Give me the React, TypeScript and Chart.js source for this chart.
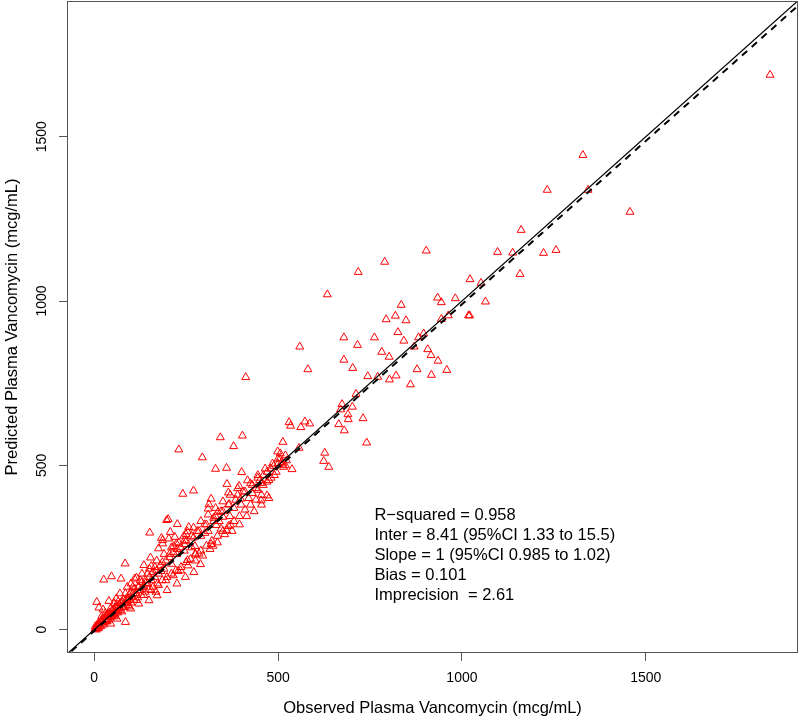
import React, { useEffect, useRef } from 'react';
import { Chart, registerables } from 'chart.js';

Chart.register(...registerables);

// Observed vs predicted plasma vancomycin (mcg/mL)
const observed = [
  1838, 1329, 1232, 1343, 1457, 1161, 1097, 1138, 1222, 1256, 1158, 1064, 1052, 903, 790, 718, 634, 1022,
  934, 944, 982, 835, 819, 794, 848, 944, 963, 1018, 1021, 896, 882, 826, 842, 870, 907, 916, 935, 959,
  917, 878, 782, 802, 762, 716, 679, 679, 703, 559, 581, 744, 771, 803, 821, 860, 712, 674, 702, 670,
  690, 691, 731, 665, 680, 741, 530, 534, 573, 586, 562, 513, 557, 627, 624, 638, 523, 513, 538, 506,
  412,
  230, 343, 403, 379, 294, 330, 360, 401, 241, 270, 361, 365, 394, 417, 445, 455, 499, 488, 481, 470,
  454, 318, 312, 398, 367, 310, 201, 226, 337, 350, 369, 371, 325, 332, 360, 345, 301, 257, 253, 244,
  318, 323, 151, 183, 186, 207, 219, 224, 203,
  197, 186, 175, 216, 246, 274, 285, 289, 254, 228, 153, 84, 47, 26, 73, 115, 135, 155, 182, 168,
  140, 121, 106, 90, 72, 54, 40, 7, 13, 24, 45, 62, 85, 45, 19, 8, 99, 121, 149, 171, 198, 225, 248,
  271, 275,
  410, 430, 440, 460, 480, 500, 505, 520, 470, 450, 420, 390, 380, 400, 350, 340, 330, 310, 300, 290,
  280, 270, 265, 250, 245, 235, 225, 215, 210, 205, 195, 190, 180, 175, 170, 165, 160, 155, 150, 145,
  140, 135, 130, 125, 120, 115, 110, 105, 100, 98, 95, 90, 88, 85, 80, 78, 75, 70, 68, 65, 62, 60, 58,
  55, 52, 50, 48, 45, 42, 40, 38, 35, 33, 30, 28, 25, 22, 20, 18, 15, 12, 10, 8, 5, 3, 2, 6, 12, 18,
  25, 32, 40, 48, 56, 64, 72, 82, 92, 100, 108, 118, 128, 138, 148, 160, 172, 185, 198, 210, 222, 236,
  250, 262, 275, 290, 305, 320, 335, 350, 365, 380, 395, 410, 425, 440, 455,
  60, 70, 90, 100, 110, 130, 150, 170, 190, 210, 230, 250, 270, 290, 310, 330, 350, 370, 390,
  470, 490, 500, 515, 485, 430, 445, 460, 475,
  20, 30, 35, 45, 55, 65, 75, 85, 95, 105, 115, 125, 135, 145, 155, 165, 175, 185, 195, 205, 215, 225,
  235, 245, 255, 265, 275, 285, 295, 305, 315, 325, 335, 345, 355, 365, 375, 385, 395, 405, 415, 425,
  435, 445, 455, 465, 475, 495, 510, 520
];

const predicted = [
  1688, 1444, 1338, 1338, 1271, 1216, 1149, 1147, 1146, 1155, 1082, 998, 1055, 1153, 1119, 1088, 1020, 1066,
  1010, 996, 1008, 988, 955, 944, 941, 945, 956, 956, 956, 901, 889, 905, 879, 861, 853, 835, 818, 790,
  775, 792, 845, 830, 889, 866, 889, 821, 796, 861, 792, 771, 769, 761, 773, 746, 717, 686, 678, 670,
  655, 640, 643, 625, 606, 569, 631, 620, 633, 627, 616, 571, 553, 538, 513, 495, 515, 505, 488, 536,
  768,
  548, 585, 590, 558, 524, 489, 492, 479, 413, 423, 443, 417, 437, 454, 462, 446, 542, 498, 462, 408,
  393, 398, 381, 398, 382, 368, 336, 321, 358, 343, 345, 319, 330, 318, 302, 307, 294, 312, 299, 285,
  260, 255, 295, 279, 262, 297, 282, 262, 277,
  333, 272, 247, 254, 272, 254, 231, 199, 211, 178, 219, 201, 162, 152, 155, 158, 196, 193, 178, 115,
  142, 130, 111, 91, 81, 81, 87, 84, 67, 61, 40, 33, 23, 18, 28, 10, 64, 79, 89, 104, 120, 140, 160,
  175, 231,
  420, 440, 430, 470, 490, 505, 520, 500, 450, 455, 400, 410, 370, 380, 360, 330, 345, 300, 320, 285,
  300, 280, 250, 270, 240, 250, 230, 235, 200, 220, 210, 185, 195, 170, 180, 160, 175, 150, 160, 140,
  150, 130, 145, 120, 130, 110, 125, 100, 115, 90, 105, 85, 95, 80, 90, 70, 85, 65, 75, 60, 72, 55, 68,
  50, 62, 45, 58, 42, 52, 38, 48, 32, 42, 28, 38, 22, 30, 18, 25, 12, 20, 8, 15, 5, 10, 2, 0, 4, 10,
  15, 25, 30, 40, 46, 52, 60, 68, 75, 82, 90, 98, 105, 115, 122, 130, 140, 150, 160, 170, 180, 190,
  205, 215, 228, 240, 255, 270, 285, 300, 315, 330, 345, 365, 380, 395, 410,
  95, 110, 130, 140, 155, 170, 185, 210, 230, 250, 265, 290, 310, 330, 350, 370, 390, 410, 430,
  480, 470, 520, 495, 505, 415, 425, 440, 455,
  40, 50, 25, 65, 40, 85, 55, 110, 70, 130, 90, 150, 105, 170, 120, 190, 135, 205, 150, 230, 165, 245,
  180, 260, 195, 285, 210, 300, 225, 320, 245, 340, 265, 360, 290, 380, 300, 395, 320, 420, 345, 445,
  360, 470, 380, 490, 400, 480, 510, 530
];

const tickValues = [0, 500, 1000, 1500];
const xRange = [-74, 1914];
const yRange = [-71, 1913];
const identityEnds = [-300, 2300];
const fitIntercept = -4;
const fitSlope = 0.994;

const xTitle = 'Observed Plasma Vancomycin (mcg/mL)';
const yTitle = 'Predicted Plasma Vancomycin (mcg/mL)';
const statsLines = [
  'R\u2212squared = 0.958',
  'Inter = 8.41 (95%CI 1.33 to 15.5)',
  'Slope = 1 (95%CI 0.985 to 1.02)',
  'Bias = 0.101',
  'Imprecision  = 2.61',
];
const statsAnchor = [762, 348];

const FONT = '"Liberation Sans", Arial, Helvetica, sans-serif';
const AXIS_COLOR = '#555';

const framePlugin = {
  id: 'frame',
  afterDraw(chart: any) {
    const { ctx, chartArea: a, scales } = chart;
    ctx.save();
    ctx.strokeStyle = AXIS_COLOR;
    ctx.lineWidth = 1;
    ctx.strokeRect(Math.round(a.left) + 0.5, Math.round(a.top) + 0.5, Math.round(a.right - a.left) - 1, Math.round(a.bottom - a.top) - 1);
    ctx.fillStyle = '#000';
    ctx.font = '16.5px ' + FONT;
    ctx.textAlign = 'left';
    ctx.textBaseline = 'middle';
    const x = scales.x.getPixelForValue(statsAnchor[0]);
    const y0 = scales.y.getPixelForValue(statsAnchor[1]);
    statsLines.forEach((t, i) => ctx.fillText(t, x, y0 + i * 20));
    ctx.restore();
  },
};

const zeroPad = (s: any) => {
  s.paddingLeft = 0;
  s.paddingRight = 0;
  s.paddingTop = 0;
  s.paddingBottom = 0;
};

export default function App() {
  const ref = useRef<HTMLCanvasElement | null>(null);

  useEffect(() => {
    if (!ref.current) return;
    const points = observed.map((o, i) => ({ x: o, y: predicted[i] }));
    const identity = identityEnds.map((v) => ({ x: v, y: v }));
    const fit = identityEnds.map((v) => ({ x: v, y: fitIntercept + fitSlope * v }));

    const chart = new Chart(ref.current, {
      type: 'scatter',
      data: {
        datasets: [
          {
            data: identity,
            showLine: true,
            borderColor: '#000',
            borderWidth: 1.2,
            pointRadius: 0,
            clip: 0,
          } as any,
          {
            data: fit,
            showLine: true,
            borderColor: '#000',
            borderWidth: 2,
            borderDash: [7, 6],
            pointRadius: 0,
            clip: 0,
          } as any,
          {
            data: points,
            pointStyle: 'triangle',
            pointRadius: 4.6,
            pointBorderWidth: 1,
            borderColor: '#ff0000',
            backgroundColor: 'rgba(0,0,0,0)',
            clip: 0,
          } as any,
        ],
      },
      options: {
        animation: false,
        responsive: false,
        devicePixelRatio: 1,
        events: [],
        layout: { autoPadding: false, padding: { top: 1, right: 2, left: 0, bottom: 0 } },
        plugins: { legend: { display: false }, tooltip: { enabled: false } },
        scales: {
          x: {
            type: 'linear',
            position: 'bottom',
            min: xRange[0],
            max: xRange[1],
            afterFit: (s: any) => { s.height = 66; zeroPad(s); },
            afterBuildTicks: (s: any) => { s.ticks = tickValues.map((v) => ({ value: v })); },
            grid: { drawOnChartArea: false, drawTicks: true, tickLength: 8, color: AXIS_COLOR },
            border: { display: false },
            ticks: {
              color: '#000', font: { family: FONT, size: 14 }, padding: 9, maxRotation: 0, minRotation: 0,
              callback: (v: any) => String(v),
            },
            title: { display: true, text: xTitle, color: '#000', font: { family: FONT, size: 16.5 }, padding: { top: 0, bottom: 0.5 } },
          },
          y: {
            type: 'linear',
            position: 'left',
            min: yRange[0],
            max: yRange[1],
            afterFit: (s: any) => { s.width = 67; zeroPad(s); },
            afterBuildTicks: (s: any) => { s.ticks = tickValues.map((v) => ({ value: v })); },
            grid: { drawOnChartArea: false, drawTicks: true, tickLength: 8, color: AXIS_COLOR },
            border: { display: false },
            ticks: {
              color: '#000', font: { family: FONT, size: 14 }, padding: 1.5, minRotation: 90, maxRotation: 90, crossAlign: 'center',
              callback: (v: any) => String(v),
            },
            title: { display: true, text: yTitle, color: '#000', font: { family: FONT, size: 16.5 }, padding: { top: 2.2, bottom: 0 } },
          },
        },
      } as any,
      plugins: [framePlugin],
    });
    return () => chart.destroy();
  }, []);

  return (
    <div style={{ position: 'absolute', left: 0, top: 0, width: 800, height: 719, background: '#fff' }}>
      <canvas ref={ref} width={800} height={719} />
    </div>
  );
}
